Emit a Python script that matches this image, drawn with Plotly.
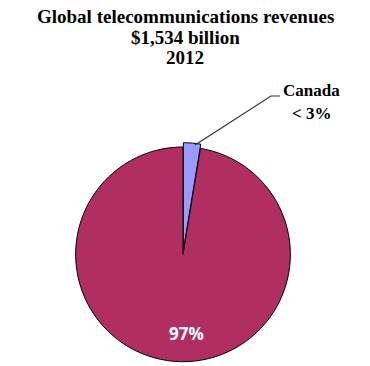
import plotly.graph_objects as go

labels = ["Canada", "Rest of world"]
values = [2.6, 97.4]
colors = ["#9999FF", "#B02E62"]
pulls = [0.04, 0]
slice_text = ["Canada<br>< 3%", "97%"]
title_lines = ["Global telecommunications revenues", "$1,534 billion", "2012"]

W, H = 370, 366
cx, cy, r = 183, 255, 108
rd = r * (1 + max(pulls))

fig = go.Figure()
fig.add_trace(go.Pie(
    labels=labels, values=values, sort=False, direction="clockwise", rotation=0,
    marker=dict(colors=colors, line=dict(color="#000000", width=1)),
    pull=pulls, textinfo="none", hoverinfo="label+percent",
    domain=dict(x=[(cx - rd) / W, (cx + rd) / W], y=[0, (H - cy + rd) / H]),
    showlegend=False,
))

serif = "Liberation Serif, Times New Roman, serif"
for i, t in enumerate(title_lines):
    fig.add_annotation(text="<b>%s</b>" % t, x=0.5, xref="paper", y=1 - (16 + 21 * i) / H, yref="paper",
                       xanchor="center", yanchor="middle", showarrow=False, borderpad=0,
                       font=dict(family=serif, size=19, color="#000000"))

# Canada label with leader line
fig.add_annotation(text="<b>Canada</b>", x=311 / W, y=1 - 90 / H, xref="paper", yref="paper",
                   showarrow=False, xanchor="center", yanchor="middle", borderpad=0,
                   font=dict(family=serif, size=17, color="#000000"))
fig.add_annotation(text="<b>< 3%</b>", x=311 / W, y=1 - 113 / H, xref="paper", yref="paper",
                   showarrow=False, xanchor="center", yanchor="middle", borderpad=0,
                   font=dict(family=serif, size=17, color="#000000"))
fig.add_shape(type="path", xref="paper", yref="paper",
              path="M %f %f L %f %f L %f %f" % (280 / W, 1 - 96 / H, 271 / W, 1 - 96 / H, 195 / W, 1 - 145 / H),
              line=dict(color="#333333", width=1.2))

fig.add_annotation(text="<b>%s</b>" % slice_text[1], x=186 / W, y=1 - 333 / H, xref="paper", yref="paper",
                   showarrow=False, xanchor="center", yanchor="middle",
                   font=dict(family="Open Sans, DejaVu Sans, sans-serif", size=17, color="#FFFFFF"))

fig.update_layout(width=W, height=H, margin=dict(l=0, r=0, t=0, b=0),
                  paper_bgcolor="#FFFFFF", plot_bgcolor="#FFFFFF")
fig.write_html("out.html")
